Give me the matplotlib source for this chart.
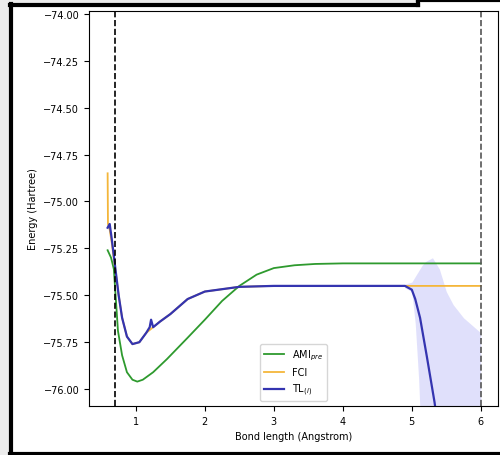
import matplotlib.pyplot as plt
from matplotlib.lines import Line2D
from matplotlib.patches import Rectangle

# bond lengths (Angstrom) and energies (Hartree)
x_pre = [0.59, 0.64, 0.68, 0.74, 0.80, 0.87, 0.95, 1.02, 1.10, 1.25, 1.45, 1.74, 2.0, 2.25, 2.5, 2.75, 3.0, 3.3, 3.6, 4.0, 5.0, 6.0]
e_pre = [-75.26, -75.30, -75.36, -75.69, -75.82, -75.91, -75.95, -75.96, -75.95, -75.91, -75.84, -75.73, -75.63, -75.53, -75.45, -75.39, -75.355, -75.34, -75.333, -75.33, -75.33, -75.33]

x_fci = [0.59, 0.595, 0.62, 0.65, 0.70, 0.75, 0.80, 0.87, 0.95, 1.05, 1.15, 1.35, 1.5, 1.75, 2.0, 2.5, 3.0, 4.0, 5.0, 6.0]
e_fci = [-74.85, -75.12, -75.15, -75.22, -75.36, -75.50, -75.62, -75.72, -75.76, -75.75, -75.70, -75.64, -75.60, -75.52, -75.48, -75.455, -75.45, -75.45, -75.45, -75.45]

x_tl = [0.59, 0.62, 0.65, 0.70, 0.75, 0.80, 0.87, 0.95, 1.05, 1.15, 1.20, 1.22, 1.25, 1.35, 1.5, 1.75, 2.0, 2.5, 3.0, 4.0, 4.9, 5.0, 5.05, 5.12, 5.22, 5.33, 5.45]
e_tl = [-75.14, -75.12, -75.20, -75.35, -75.50, -75.62, -75.72, -75.76, -75.75, -75.70, -75.67, -75.63, -75.67, -75.64, -75.60, -75.52, -75.48, -75.455, -75.45, -75.45, -75.45, -75.47, -75.52, -75.62, -75.83, -76.07, -76.40]

# uncertainty band of TL at large bond lengths
x_band = [4.9, 5.0, 5.05, 5.1, 5.15, 5.2, 5.3, 5.4, 5.5, 5.6, 5.75, 6.0]
band_hi = [-75.44, -75.43, -75.40, -75.37, -75.34, -75.32, -75.30, -75.36, -75.48, -75.55, -75.62, -75.70]
band_lo = [-75.46, -75.48, -75.65, -75.95, -76.40, -77.0, -77.0, -77.0, -77.0, -77.0, -77.0, -77.0]

r_min, r_max = 0.69, 6.0

fig = plt.figure(figsize=(5, 4.56), dpi=100)
ax = fig.add_axes([89 / 500, 1 - 407 / 456, 409 / 500, 395 / 456])

ax.fill_between(x_band, band_lo, band_hi, color='#6666ee', alpha=0.2, linewidth=0)
ax.plot(x_pre, e_pre, color='#2e9a2e', lw=1.3, label='AMI$_{pre}$')
ax.plot(x_fci, e_fci, color='#f4b63a', lw=1.3, label='FCI')
ax.plot(x_tl, e_tl, color='#3434b0', lw=1.6, label='TL$_{(i)}$')
ax.axvline(r_min, color='black', ls='--', lw=1.2)
ax.axvline(r_max, color='#555555', ls='--', lw=1.2)

ax.set_xlim(0.32, 6.25)
ax.set_ylim(-76.09, -73.985)
ax.set_yticks([-76.0, -75.75, -75.5, -75.25, -75.0, -74.75, -74.5, -74.25, -74.0])
ax.set_xticks([1, 2, 3, 4, 5, 6])
ax.tick_params(labelsize=7)
ax.set_xlabel('Bond length (Angstrom)', fontsize=7)
ax.set_ylabel('Energy (Hartree)', fontsize=7)
ax.legend(loc='lower center', fontsize=7)

# screenshot frame
fig.add_artist(Rectangle((0, 0), 10 / 500, 1, transform=fig.transFigure, color='#ececec', zorder=-5))
fig.add_artist(Rectangle((0, 1 - 5 / 456), 417 / 500, 5 / 456, transform=fig.transFigure, color='#ececec', zorder=-5))
def px_line(xs, ys, lw=3):
    fig.add_artist(Line2D([v / 500 for v in xs], [1 - v / 456 for v in ys],
                          transform=fig.transFigure, color='black', lw=lw))
px_line([11, 11], [5, 456])
px_line([10, 418], [5.5, 5.5])
px_line([418, 418], [0, 6])
px_line([418, 500], [1, 1])
px_line([10, 500], [454.5, 454.5])

fig.savefig('out.png', dpi=100)
